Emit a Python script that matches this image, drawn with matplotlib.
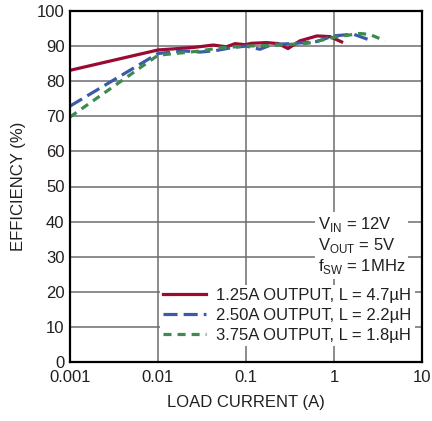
import matplotlib
matplotlib.use("Agg")
import matplotlib.pyplot as plt
from matplotlib import font_manager

# efficiency curves
load_125 = [0.001, 0.01, 0.025, 0.0425, 0.06, 0.075, 0.0975, 0.116, 0.172, 0.233, 0.30, 0.41, 0.64, 0.90, 1.22]
eff_125 = [83.1, 88.9, 89.6, 90.3, 89.8, 90.7, 90.4, 90.8, 91.0, 90.7, 89.3, 91.5, 92.9, 92.7, 91.2]

load_250 = [0.001, 0.01, 0.02, 0.03, 0.045, 0.07, 0.1, 0.144, 0.2, 0.33, 0.64, 0.98, 1.66, 2.57]
eff_250 = [72.9, 87.9, 88.6, 88.3, 88.7, 89.6, 90.0, 89.1, 90.5, 90.7, 91.3, 92.9, 93.4, 91.7]

load_375 = [0.001, 0.01, 0.03, 0.05, 0.1, 0.2, 0.5, 1.0, 1.97, 2.57, 3.8]
eff_375 = [69.8, 87.4, 88.6, 89.5, 90.0, 90.2, 90.8, 92.5, 93.6, 93.3, 91.5]

labels = ["1.25A OUTPUT, L = 4.7µH", "2.50A OUTPUT, L = 2.2µH", "3.75A OUTPUT, L = 1.8µH"]
colors = ["#9a0a32", "#3b5ba8", "#3d8b4f"]

names = {f.name for f in font_manager.fontManager.ttflist}
family = "Liberation Sans Narrow" if "Liberation Sans Narrow" in names else "Liberation Sans"
plt.rcParams["font.family"] = [family, "DejaVu Sans"]
plt.rcParams["mathtext.fontset"] = "custom"
plt.rcParams["mathtext.rm"] = family
plt.rcParams["font.size"] = 12

fig = plt.figure(figsize=(4.32, 4.21), dpi=100)
ax = fig.add_axes([70 / 432, 1 - 362 / 421, 352 / 432, 351 / 421])

ax.plot(load_125, eff_125, color=colors[0], lw=2.3, label=labels[0])
ax.plot(load_250, eff_250, color=colors[1], lw=2.3, dashes=(4.4, 1.9), label=labels[1])
ax.plot(load_375, eff_375, color=colors[2], lw=2.3, dashes=(2.5, 1.9), label=labels[2])

ax.set_xscale("log")
ax.set_xlim(0.001, 10)
ax.set_ylim(0, 100)
ax.set_xticks([0.001, 0.01, 0.1, 1, 10])
ax.set_xticklabels(["0.001", "0.01", "0.1", "1", "10"])
ax.set_yticks(range(0, 101, 10))
ax.minorticks_off()
ax.tick_params(length=0, pad=4, colors="#231f20")
ax.tick_params(axis="x", pad=6)
ax.grid(True, color="#6e6e6e", lw=1.1)
for s in ax.spines.values():
    s.set_linewidth(1.6)
    s.set_color("black")

ax.set_xlabel("LOAD CURRENT (A)", color="#231f20", labelpad=7)
ax.set_ylabel("EFFICIENCY (%)", color="#231f20", labelpad=8)

leg = ax.legend(loc="lower right", bbox_to_anchor=(0.98, 0.045), frameon=True,
                fancybox=False, edgecolor="none", facecolor="white", framealpha=1,
                handlelength=2.6, handletextpad=0.6, borderpad=0.2, labelspacing=0.3,
                borderaxespad=0)
for t in leg.get_texts():
    t.set_color("#231f20")

ax.text(0.705, 0.42, "V$_{\\mathrm{IN}}$ = 12V\nV$_{\\mathrm{OUT}}$ = 5V\nf$_{\\mathrm{SW}}$ = 1MHz",
        transform=ax.transAxes, ha="left", va="top", multialignment="left",
        color="#231f20", linespacing=1.15,
        bbox=dict(facecolor="white", edgecolor="none", pad=2))

fig.savefig("out.png", dpi=100)
